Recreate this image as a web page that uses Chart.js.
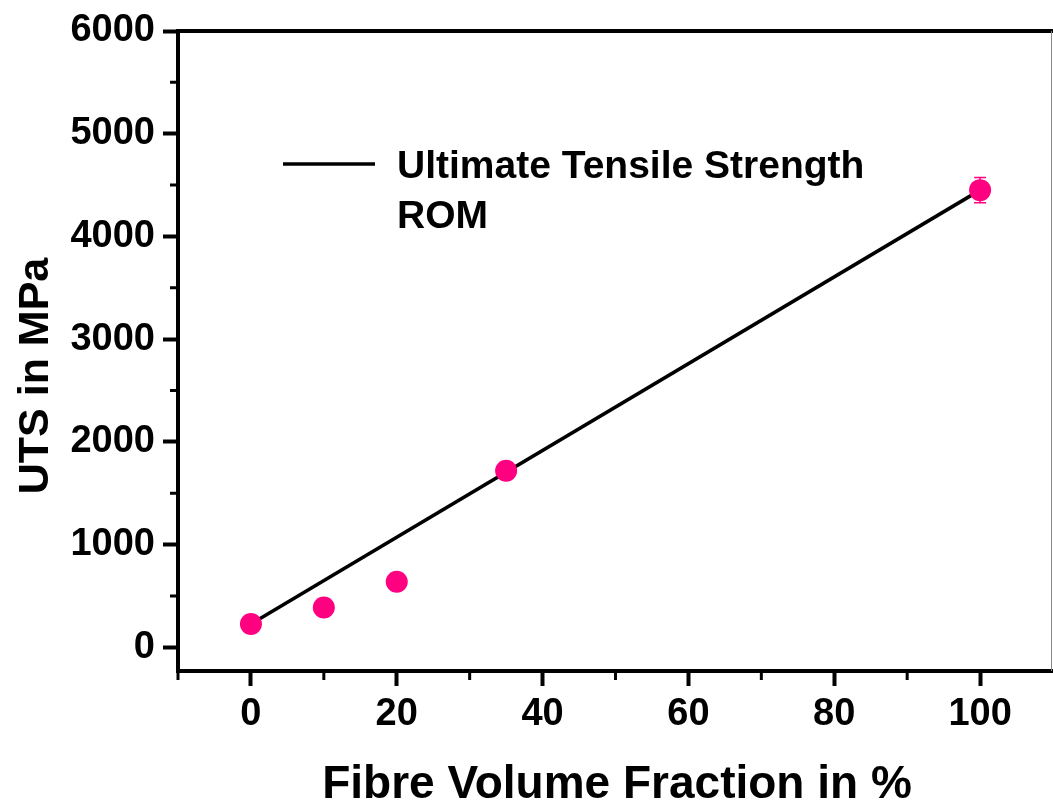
<!DOCTYPE html>
<html>
<head>
<meta charset="utf-8">
<script src="https://cdn.jsdelivr.net/npm/chart.js@4.4.1/dist/chart.umd.min.js"></script>
<style>
  html, body { margin: 0; padding: 0; background: #fff; overflow: hidden; }
  canvas { display: block; }
</style>
</head>
<body>
<canvas id="myChart" width="1053" height="806"></canvas>
<script>
// measured points
const fibreFraction = [0, 10, 20, 35, 100];
const utsValues = [227, 389, 639, 1719, 4451];
const utsError = [0, 0, 0, 0, 124];

// rule of mixtures line
const romFraction = [0, 100];
const romValues = [227, 4451];

// axis ticks
const xTicks = [0, 20, 40, 60, 80, 100];
const yTicks = [0, 1000, 2000, 3000, 4000, 5000, 6000];

const pink = "#ff0080";
const FONT = '"Liberation Sans", Arial, sans-serif';

Chart.defaults.font.family = FONT;
Chart.defaults.font.weight = "bold";
Chart.defaults.color = "#000";

// minor ticks halfway between major ones
function midpoints(arr) {
  const out = [];
  for (let i = 0; i < arr.length - 1; i++) out.push((arr[i] + arr[i + 1]) / 2);
  return out;
}

// extra drawing: error bars, minor ticks, frame, legend, axis titles
const extras = {
  id: "extras",
  afterDatasetsDraw(chart) {
    const c = chart.ctx;
    const xs = chart.scales.x, ys = chart.scales.y;
    c.save();
    c.strokeStyle = pink;
    c.lineWidth = 1.5;
    fibreFraction.forEach((fx, i) => {
      if (!utsError[i]) return;
      const px = xs.getPixelForValue(fx);
      const top = ys.getPixelForValue(utsValues[i] + utsError[i]);
      const bot = ys.getPixelForValue(utsValues[i] - utsError[i]);
      c.beginPath();
      c.moveTo(px, top); c.lineTo(px, bot);
      c.moveTo(px - 6, top); c.lineTo(px + 6, top);
      c.moveTo(px - 6, bot); c.lineTo(px + 6, bot);
      c.stroke();
    });
    c.restore();
  },
  afterDraw(chart) {
    const c = chart.ctx;
    const a = chart.chartArea;
    const xs = chart.scales.x, ys = chart.scales.y;
    c.save();

    // minor ticks
    c.strokeStyle = "#000";
    c.lineWidth = 3;
    c.beginPath();
    midpoints(xTicks).forEach(v => {
      const px = xs.getPixelForValue(v);
      c.moveTo(px, a.bottom); c.lineTo(px, a.bottom + 9);
    });
    midpoints(yTicks).forEach(v => {
      const py = ys.getPixelForValue(v);
      c.moveTo(a.left - 8, py); c.lineTo(a.left, py);
    });
    // left axis runs a bit below the bottom axis
    c.moveTo(a.left, a.bottom); c.lineTo(a.left, a.bottom + 9);
    c.stroke();

    // top frame
    c.lineWidth = 4;
    c.beginPath();
    c.moveTo(a.left - 2, a.top); c.lineTo(a.right, a.top);
    c.stroke();
    // right frame (thin)
    c.strokeStyle = "#888";
    c.lineWidth = 1;
    c.beginPath();
    c.moveTo(a.right - 1.5, a.top); c.lineTo(a.right - 1.5, a.bottom);
    c.stroke();

    // legend
    c.strokeStyle = "#000";
    c.lineWidth = 3.5;
    c.beginPath();
    c.moveTo(283, 164); c.lineTo(375, 164);
    c.stroke();
    c.fillStyle = "#000";
    c.font = "bold 39px " + FONT;
    c.textAlign = "left";
    c.textBaseline = "alphabetic";
    c.fillText("Ultimate Tensile Strength", 397, 178);
    c.fillText("ROM", 397, 228);

    // axis titles
    c.font = "bold 46px " + FONT;
    c.textAlign = "center";
    c.fillText("Fibre Volume Fraction in %", 617, 798);

    c.translate(48, 376);
    c.rotate(-Math.PI / 2);
    c.font = "bold 43px " + FONT;
    c.fillText("UTS in MPa", 0, 0);
    c.restore();
  }
};

const ctx = document.getElementById("myChart").getContext("2d");

const chart = new Chart(ctx, {
  type: "scatter",
  data: {
    datasets: [
      {
        label: "Ultimate Tensile Strength",
        data: fibreFraction.map((x, i) => ({ x: x, y: utsValues[i] })),
        backgroundColor: pink,
        borderColor: pink,
        pointRadius: 11,
        pointHoverRadius: 11,
        borderWidth: 0,
        showLine: false
      },
      {
        type: "line",
        label: "ROM",
        data: romFraction.map((x, i) => ({ x: x, y: romValues[i] })),
        borderColor: "#000",
        borderWidth: 3.5,
        pointRadius: 0,
        fill: false
      }
    ]
  },
  options: {
    responsive: false,
    animation: false,
    layout: { autoPadding: false, padding: { top: 31, right: 0, bottom: 0, left: 0 } },
    plugins: {
      legend: { display: false },
      tooltip: { enabled: false }
    },
    scales: {
      x: {
        type: "linear",
        min: -10,
        max: 110,
        afterBuildTicks: s => { s.ticks = xTicks.map(v => ({ value: v })); },
        afterFit: s => { s.height = 135; s.paddingLeft = 0; s.paddingRight = 0; },
        border: { display: true, color: "#000", width: 4 },
        grid: {
          drawOnChartArea: false,
          drawTicks: true,
          tickLength: 15,
          tickWidth: 4,
          tickColor: "#000"
        },
        ticks: {
          font: { size: 38, weight: "bold" },
          color: "#000",
          padding: 6,
          maxRotation: 0,
          callback: v => String(v)
        }
      },
      y: {
        type: "linear",
        min: -230,
        max: 6000,
        afterBuildTicks: s => { s.ticks = yTicks.map(v => ({ value: v })); },
        afterFit: s => { s.width = 178; s.paddingTop = 0; s.paddingBottom = 0; },
        border: { display: true, color: "#000", width: 4 },
        grid: {
          drawOnChartArea: false,
          drawTicks: true,
          tickLength: 15,
          tickWidth: 4,
          tickColor: "#000"
        },
        ticks: {
          font: { size: 38, weight: "bold" },
          color: "#000",
          padding: 8,
          callback: v => String(v)
        }
      }
    }
  },
  plugins: [extras]
});
</script>
</body>
</html>
